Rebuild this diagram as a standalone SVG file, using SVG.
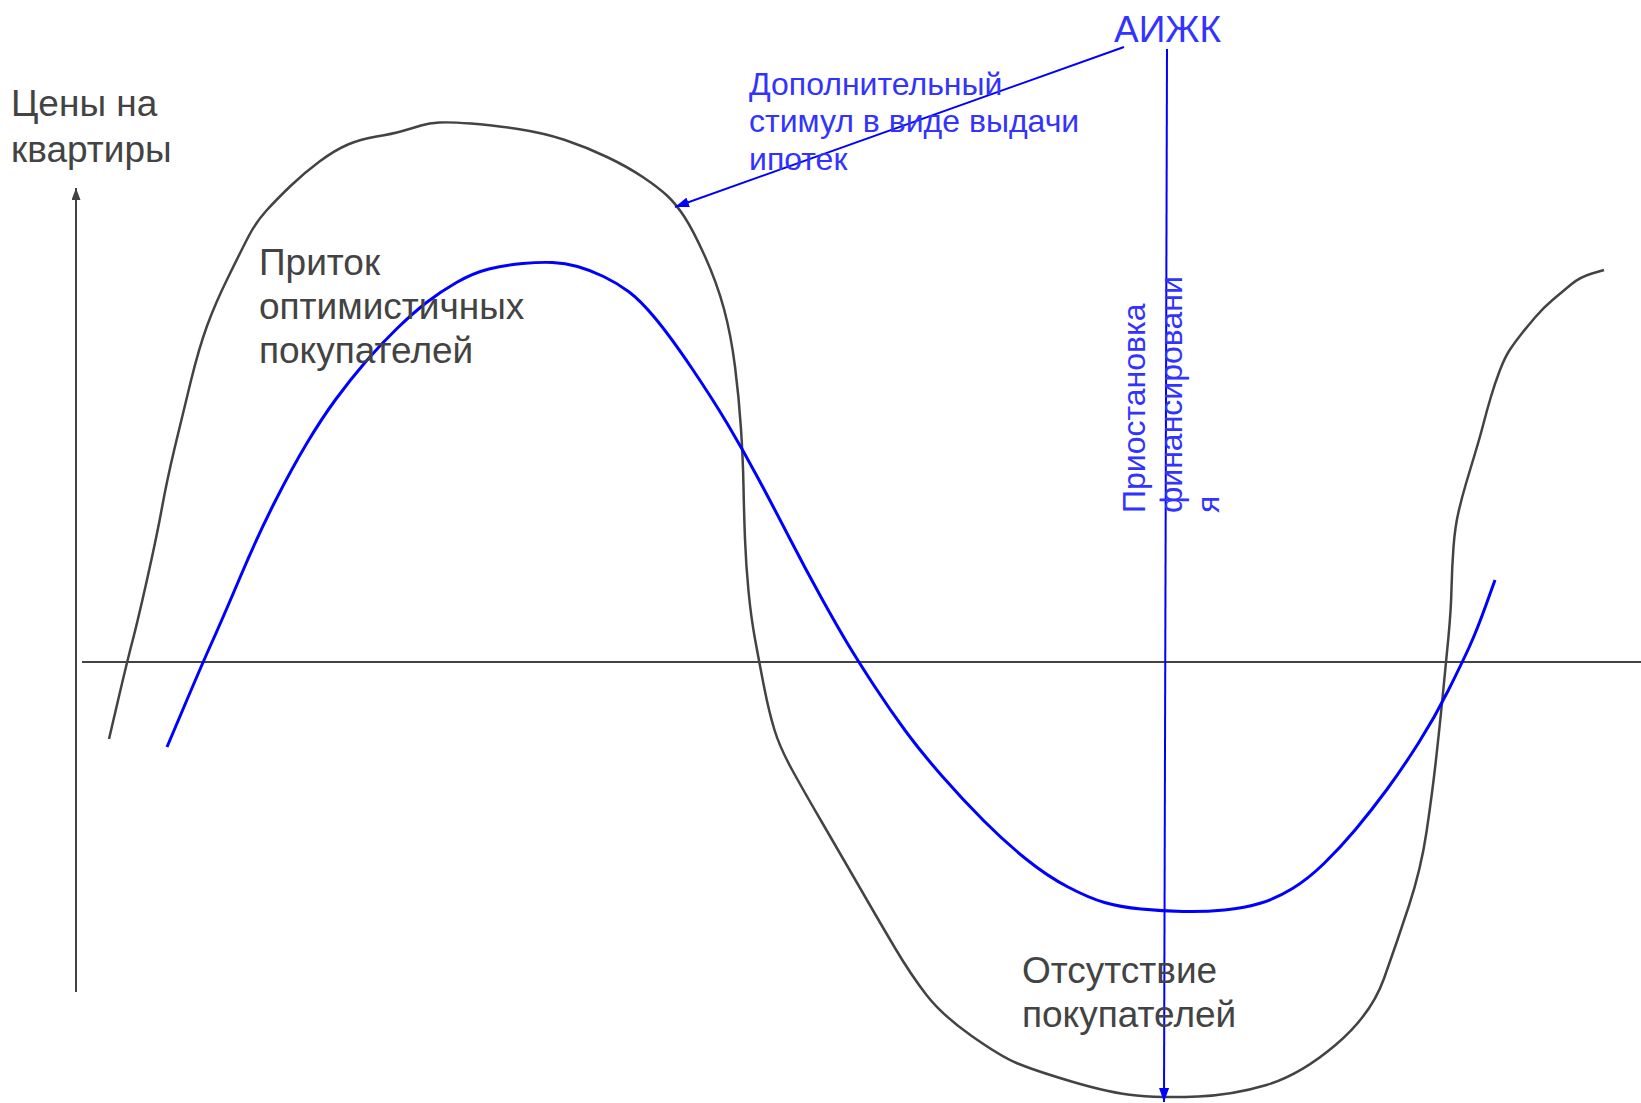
<svg xmlns="http://www.w3.org/2000/svg" width="1641" height="1103" viewBox="0 0 1641 1103">
<style>
.gt{font-family:"Liberation Sans",Arial,sans-serif;font-size:37px;fill:#434343}
.bt{font-family:"Liberation Sans",Arial,sans-serif;font-size:32px;fill:#3333ff}
.gl{fill:none;stroke:#434343;stroke-width:2}
.gc{fill:none;stroke:#434343;stroke-width:2.5}
.bl{fill:none;stroke:#0000ff;stroke-width:3}
.ba{fill:none;stroke:#0000ff;stroke-width:2}
</style>
<defs>
<marker id="ag" markerWidth="12" markerHeight="9" refX="12" refY="4.5" orient="auto" markerUnits="userSpaceOnUse"><path d="M0,0 L12,4.5 L0,9 z" fill="#434343"/></marker>
<marker id="ab" markerWidth="14" markerHeight="10" refX="14" refY="5" orient="auto" markerUnits="userSpaceOnUse"><path d="M0,0 L14,5 L0,10 z" fill="#0000ff"/></marker>
</defs>
<g id="connectors">
<line class="gl" x1="76" y1="992" x2="76" y2="188" marker-end="url(#ag)"/>
<line class="gl" x1="82" y1="662" x2="1641" y2="662"/>
<path id="curve-black" class="gc" d="M109,739 L118,700.5 Q127,662 132.5,641 Q138,620 147.5,577.5 Q157,535 162,507.5 Q167,480 175,446.5 Q183,413 191,380.5 Q199,348 207,326 Q215,304 228,277.5 Q241,251 248.5,236.5 Q256,222 266.5,210.5 Q277,199 290.5,186 Q304,173 319.5,161.5 Q335,150 348,144.5 Q361,139 376.5,136.5 Q392,134 402.5,131 Q413,128 421,125.5 Q429,123 439.5,122.5 Q450,122 471,123.5 Q492,125 518,129 Q544,133 565,140 Q586,147 607,157 Q628,167 643.5,177.5 Q659,188 667.5,196 Q676,204 684.5,217 Q693,230 705,256.5 Q717,283 724,309 Q731,335 735,366.5 Q739,398 741,429 Q743,460 743.5,486.5 Q744,513 745,539 Q746,565 748.5,591 Q751,617 755,639 Q759,661 764,686.5 Q769,712 774.5,730 Q780,748 793,771.5 Q806,795 821.5,821.5 Q837,848 858,884.5 Q879,921 895,948 Q911,975 926.5,995 Q942,1015 971,1035.5 Q1000,1056 1016.5,1063 Q1033,1070 1071.5,1081.5 Q1110,1093 1136.5,1095.5 Q1163,1098 1198,1096.5 Q1233,1095 1266.5,1085 Q1300,1075 1335.5,1045 Q1371,1015 1384,978.5 Q1397,942 1409,905.5 Q1421,869 1426.5,832 Q1432,795 1435.5,764 Q1439,733 1442.5,698 Q1446,663 1448.5,636.5 Q1451,610 1451.5,588.5 Q1452,567 1453.5,547 Q1455,527 1458.5,512 Q1462,497 1466,483.5 Q1470,470 1475,453.5 Q1480,437 1483.5,423.5 Q1487,410 1491,396.5 Q1495,383 1500,370 Q1505,357 1510,349.5 Q1515,342 1521,334.5 Q1527,327 1535,317.5 Q1543,308 1552.5,300 Q1562,292 1571,284.5 Q1580,277 1592,273.5 L1604,270"/>
<path id="curve-blue" class="bl" d="M167,747 L185,704.5 Q203,662 212.5,641 Q222,620 240,577.5 Q258,535 275,501.5 Q292,468 307,443 Q322,418 336,399 Q350,380 365,362.5 Q380,345 396.5,329 Q413,313 426.5,302.5 Q440,292 456.5,282.5 Q473,273 489,269 Q505,265 522.5,263.5 Q540,262 552.5,262.5 Q565,263 577.5,266.5 Q590,270 603.5,276.5 Q617,283 628.5,291.5 Q640,300 655,318 Q670,336 691,367 Q712,398 727.5,424 Q743,450 758.5,479 Q774,508 790,539 Q806,570 821.5,598 Q837,626 847.5,643.5 Q858,661 874,685.5 Q890,710 905.5,731 Q921,752 942,776 Q963,800 984,821 Q1005,842 1026,859 Q1047,876 1068,887 Q1089,898 1104.5,902.5 Q1120,907 1141,909 Q1162,911 1183,911.5 Q1204,912 1224.5,910 Q1245,908 1261,903 Q1277,898 1292.5,888.5 Q1308,879 1324,863.5 Q1340,848 1355.5,829.5 Q1371,811 1386.5,790 Q1402,769 1418.5,743 Q1435,717 1448.5,690 Q1462,663 1469.5,646.5 Q1477,630 1486,605 L1495,580"/>
<line class="ba" x1="1124" y1="47" x2="675" y2="207" marker-end="url(#ab)"/>
<line class="ba" x1="1167" y1="49" x2="1164" y2="1102" marker-end="url(#ab)"/>
</g>
<g id="label-prices"><text class="gt"><tspan x="11" y="116">Цены на</tspan><tspan x="11" y="162">квартиры</tspan></text></g>
<g id="label-inflow"><text class="gt"><tspan x="259" y="275">Приток</tspan><tspan x="259" y="319">оптимистичных</tspan><tspan x="259" y="363">покупателей</tspan></text></g>
<g id="label-absence"><text class="gt"><tspan x="1022" y="983">Отсутствие</tspan><tspan x="1022" y="1027">покупателей</tspan></text></g>
<g id="label-aijk"><text class="bt" x="1114" y="42" style="font-size:37px">АИЖК</text></g>
<g id="label-stimulus"><text class="bt"><tspan x="749" y="95">Дополнительный</tspan><tspan x="749" y="132">стимул в виде выдачи</tspan><tspan x="749" y="170">ипотек</tspan></text></g>
<g id="label-suspension"><text class="bt" transform="translate(0,513) rotate(-90)"><tspan x="0" y="1145">Приостановка</tspan><tspan x="0" y="1182">финансировани</tspan><tspan x="0" y="1219">я</tspan></text></g>
</svg>
